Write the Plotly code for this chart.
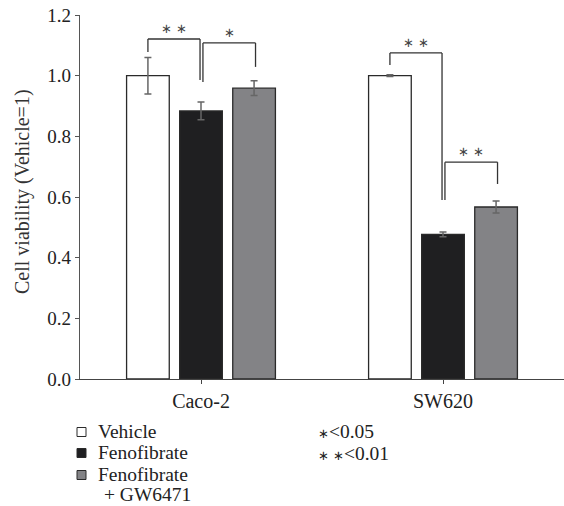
import plotly.graph_objects as go

categories = ["Caco-2", "SW620"]
series_names = ["Vehicle", "Fenofibrate", "Fenofibrate + GW6471"]
legend_lines = [["Vehicle"], ["Fenofibrate"], ["Fenofibrate", "+ GW6471"]]
vehicle = [1.0, 1.0]
vehicle_err = [0.06, 0.003]
fenofibrate = [0.884, 0.477]
fenofibrate_err = [0.029, 0.008]
feno_gw = [0.959, 0.567]
feno_gw_err = [0.024, 0.02]
y_ticks = [0.0, 0.2, 0.4, 0.6, 0.8, 1.0, 1.2]
y_title = "Cell viability (Vehicle=1)"
# brackets: (group index, left bar, right bar, number of stars, top y, left end y, right end y)
brackets = [
    (0, 0, 1, 2, 1.121, 1.078, 0.986),
    (0, 1, 2, 1, 1.108, 0.979, 1.029),
    (1, 0, 1, 2, 1.075, 1.035, 0.590),
    (1, 1, 2, 2, 0.715, 0.590, 0.643),
]
sig_legend = [(1, "<0.05"), (2, "<0.01")]

FONT = "Liberation Serif, Times New Roman, serif"
STAR_FONT = "DejaVu Sans"
colors = ["#ffffff", "#1f1f21", "#838386"]
values = [vehicle, fenofibrate, feno_gw]
errs = [vehicle_err, fenofibrate_err, feno_gw_err]

W, H = 564, 506
L, R, T, B = 80, 0, 15, 127
pw, ph = W - L - R, H - T - B

fig = go.Figure()
for name, v, e, c in zip(series_names, values, errs, colors):
    fig.add_trace(go.Bar(
        x=[0, 1], y=v, name=name, marker=dict(color=c, line=dict(color="#2a2a2a", width=1.3)),
        error_y=dict(type="data", array=e, color="#666666", thickness=1.5, width=3.5),
        showlegend=False, hoverinfo="skip",
    ))


def star_span(n, size):
    return "<span style='font-family:%s;font-size:%dpx'>%s</span>" % (
        STAR_FONT, size, " ".join(["∗"] * n))


bargap = 0.342
slot = (1 - bargap) / 3
shapes = []
annotations = []
for g, a, b, n, ytop, yl, yr in brackets:
    xa = g + (a - 1) * slot + (0.008 if a == 1 else 0)
    xb = g + (b - 1) * slot + (-0.004 if b == 1 else 0.006)
    line = dict(color="#333333", width=1.3)
    shapes.append(dict(type="line", x0=xa, x1=xa, y0=yl, y1=ytop, xref="x", yref="y", line=line))
    shapes.append(dict(type="line", x0=xa, x1=xb, y0=ytop, y1=ytop, xref="x", yref="y", line=line))
    shapes.append(dict(type="line", x0=xb, x1=xb, y0=ytop, y1=yr, xref="x", yref="y", line=line))
    annotations.append(dict(x=(xa + xb) / 2, y=ytop, xref="x", yref="y",
                            text=" ".join(["∗"] * n), showarrow=False,
                            yanchor="bottom", yshift=1,
                            font=dict(family=STAR_FONT, size=13, color="#444444")))


def px_x(px):
    return (px - L) / pw


def px_y(py):
    return (H - B - py) / ph


# y axis title
annotations.append(dict(x=px_x(22), y=px_y(192), xref="paper", yref="paper", text=y_title,
                        textangle=-90, showarrow=False, xanchor="center", yanchor="middle",
                        font=dict(family=FONT, size=20, color="#333333")))

# manual legend
sq_rows = [432, 453, 475]
line_rows = [[431], [452], [474, 494]]
for lines, yc, rows, c in zip(legend_lines, sq_rows, line_rows, colors):
    shapes.append(dict(type="rect", xref="paper", yref="paper",
                       x0=px_x(77), x1=px_x(86), y0=px_y(yc + 4.5), y1=px_y(yc - 4.5),
                       fillcolor=c, line=dict(color="#2a2a2a", width=1)))
    for j, (txt, ry) in enumerate(zip(lines, rows)):
        annotations.append(dict(x=px_x(96 if j == 0 else 102), y=px_y(ry), xref="paper", yref="paper",
                                text=txt, showarrow=False, xanchor="left", yanchor="middle",
                                font=dict(family=FONT, size=19.5, color="#222222")))
for (n, s), ry in zip(sig_legend, [431, 453]):
    annotations.append(dict(x=px_x(316), y=px_y(ry), xref="paper", yref="paper",
                            text=star_span(n, 13) + s,
                            showarrow=False, xanchor="left", yanchor="middle",
                            font=dict(family=FONT, size=19.5, color="#222222")))

fig.update_layout(
    width=W, height=H, margin=dict(l=L, r=R, t=T, b=B),
    paper_bgcolor="white", plot_bgcolor="white",
    barmode="group", bargap=bargap, bargroupgap=0.196,
    font=dict(family=FONT, size=18, color="#222222"),
    shapes=shapes, annotations=annotations,
    xaxis=dict(range=[-0.5, 1.5], tickmode="array", tickvals=[0, 1], ticktext=categories,
               showline=True, linecolor="#444444", linewidth=1.3, ticks="outside", ticklen=4,
               tickcolor="#444444", showgrid=False, zeroline=False,
               tickfont=dict(family=FONT, size=20, color="#222222")),
    yaxis=dict(range=[0, 1.2001], tickmode="array", tickvals=y_ticks,
               ticktext=["%.1f" % t for t in y_ticks],
               showline=True, linecolor="#555555", linewidth=1.3, ticks="outside", ticklen=4,
               tickcolor="#555555", showgrid=False, zeroline=False,
               tickfont=dict(family=FONT, size=19, color="#222222")),
)

fig.write_html("out.html", config={"displayModeBar": False},
               post_script="document.body.style.margin='0';document.body.style.padding='0';")
